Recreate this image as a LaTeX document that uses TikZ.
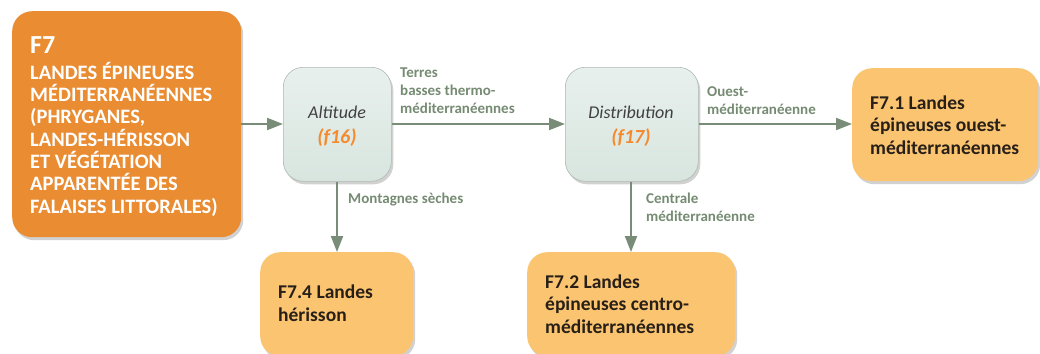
\documentclass[tikz,border=0pt]{standalone}
\usepackage{fontspec}
\setmainfont{Carlito}
\usetikzlibrary{shadows,arrows.meta}
\definecolor{mainorange}{RGB}{233,140,50}
\definecolor{lightorange}{RGB}{251,196,112}
\definecolor{graytop}{RGB}{232,240,237}
\definecolor{graybot}{RGB}{216,229,223}
\definecolor{grayborder}{RGB}{175,186,181}
\definecolor{arrowgreen}{RGB}{120,140,120}
\definecolor{labelgreen}{RGB}{117,139,114}
\definecolor{keyorange}{RGB}{245,138,45}
\definecolor{darktext}{RGB}{40,32,24}
\definecolor{crittext}{RGB}{64,64,64}
\newcommand\keylabel[1]{{\fontsize{20}{25}\selectfont\bfseries\itshape\color{keyorange}#1}}
\begin{document}
\begin{tikzpicture}[x=1pt,y=-1pt,
  boxbase/.style={rounded corners=20pt, inner sep=0pt, anchor=north west,
    drop shadow={shadow xshift=2pt,shadow yshift=-3pt,opacity=0.3,fill=black!60}},
  mainbox/.style={boxbase, fill=mainorange},
  leafbox/.style={boxbase, fill=lightorange},
  critbox/.style={boxbase, draw=grayborder, line width=0.6pt, top color=graytop, bottom color=graybot},
  maintext/.style={anchor=base west, inner sep=0pt, align=left, text=white,
    font=\fontsize{20.5}{22.3}\selectfont\bfseries},
  leaftext/.style={anchor=base west, inner sep=0pt, align=left, text=darktext,
    font=\fontsize{19.5}{22.3}\selectfont\bfseries},
  crittext/.style={anchor=base, inner sep=0pt, align=center, text=crittext,
    font=\fontsize{18}{25}\selectfont\itshape},
  edgelabel/.style={anchor=base west, inner sep=0pt, align=left, text=labelgreen,
    font=\fontsize{15}{18}\selectfont\bfseries},
  flow/.style={draw=arrowgreen, line width=2pt, -{Triangle[length=16pt,width=12pt]}}
]
\useasboundingbox (0,0) rectangle (1040,353);

% boxes
\node[mainbox, minimum width=229pt, minimum height=226pt] (f7) at (12,11) {};
\node[critbox, minimum width=108pt, minimum height=114pt] (alt) at (283,67) {};
\node[critbox, minimum width=133pt, minimum height=114pt] (dist) at (565,67) {};
\node[leafbox, minimum width=186pt, minimum height=113pt] (f71) at (852,68) {};
\node[leafbox, minimum width=153pt, minimum height=104pt] (f74) at (260,252) {};
\node[leafbox, minimum width=208pt, minimum height=104pt] (f72) at (527,252) {};

% texts (anchored at the baseline of their last line)
\node[maintext] (f7t) at (30,213) {{\fontsize{26}{26}\selectfont F7}\\[3.7pt]
LANDES ÉPINEUSES\\MÉDITERRANÉENNES\\(PHRYGANES,\\LANDES-HÉRISSON\\ET VÉGÉTATION\\APPARENTÉE DES\\FALAISES LITTORALES)};
\node[crittext] (altt) at (337,143) {Altitude\\\keylabel{(f16)}};
\node[crittext] (distt) at (631,143) {Distribution\\\keylabel{(f17)}};
\node[leaftext] (f71t) at (870,154) {F7.1 Landes\\épineuses ouest-\\méditerranéennes};
\node[leaftext] (f74t) at (278,321) {F7.4 Landes\\hérisson};
\node[leaftext] (f72t) at (545,333) {F7.2 Landes\\épineuses centro-\\méditerranéennes};

% connectors
\draw[flow] (f7.east |- 0,124) -- (alt.west |- 0,124);
\draw[flow] (alt.east |- 0,124) -- (dist.west |- 0,124);
\draw[flow] (dist.east |- 0,124) -- (f71.west |- 0,124);
\draw[flow] (alt.south -| 337,0) -- (f74.north -| 337,0);
\draw[flow] (dist.south -| 631,0) -- (f72.north -| 631,0);

% edge labels
\node[edgelabel] (l1) at (400,113) {Terres\\basses thermo-\\méditerranéennes};
\node[edgelabel] (l2) at (707,114) {Ouest-\\méditerranéenne};
\node[edgelabel] (l3) at (348,203) {Montagnes sèches};
\node[edgelabel] (l4) at (646,221) {Centrale\\méditerranéenne};
\end{tikzpicture}
\end{document}
